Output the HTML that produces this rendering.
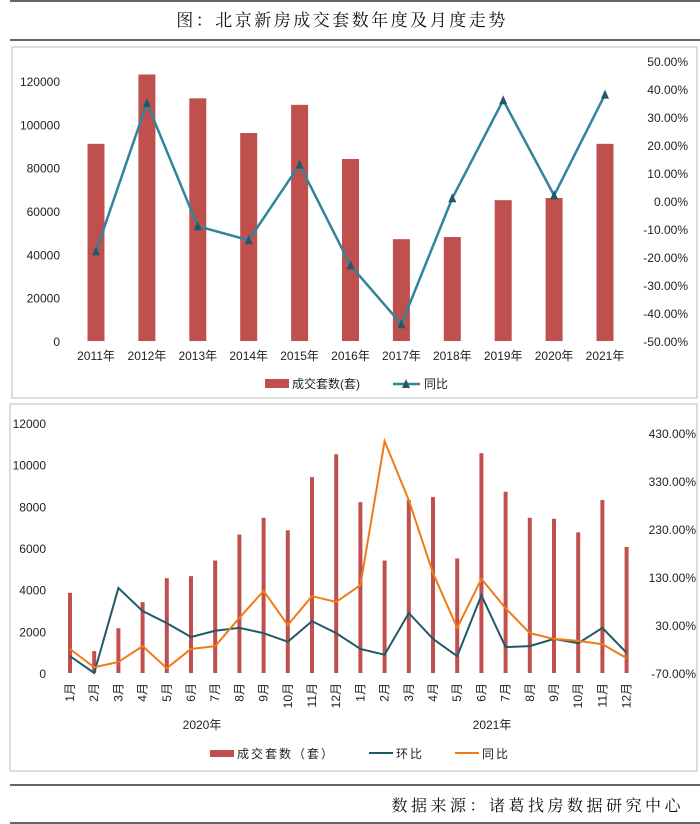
<!DOCTYPE html>
<html><head><meta charset="utf-8">
<style>
body{margin:0;background:#fff;width:700px;height:824px;overflow:hidden;font-family:"Liberation Sans","Noto Sans CJK SC",sans-serif;}
svg{display:block}
</style></head>
<body>
<svg id="s" width="700" height="824" xmlns="http://www.w3.org/2000/svg" font-family="Liberation Sans, Noto Sans CJK SC, sans-serif">
<line x1="10" y1="1" x2="700" y2="1" stroke="#333" stroke-width="1.5"/>
<text x="342" y="26" text-anchor="middle" font-size="17" font-family="Noto Serif CJK SC, serif" fill="#111" letter-spacing="2.5">图：北京新房成交套数年度及月度走势</text>
<line x1="10" y1="40" x2="700" y2="40" stroke="#333" stroke-width="1.5"/>
<rect x="12" y="47" width="685" height="351" fill="#fff" stroke="#bbb"/>
<rect x="10" y="404" width="687" height="367" fill="#fff" stroke="#bbb"/>
<g id="top"></g><g id="bot"></g>
<line x1="10" y1="785" x2="700" y2="785" stroke="#333" stroke-width="1.5"/>
<text x="684" y="811" text-anchor="end" font-size="16" font-family="Noto Serif CJK SC, serif" fill="#111" letter-spacing="3.5">数据来源：诸葛找房数据研究中心</text>
<line x1="10" y1="823" x2="700" y2="823" stroke="#333" stroke-width="1.5"/>
</svg>
<script>
const yearCats=["2011年","2012年","2013年","2014年","2015年","2016年","2017年","2018年","2019年","2020年","2021年"];
const yearVolumes=[91000,123000,112000,96000,109000,84000,47000,48000,65000,66000,91000];
const yearYoY=[-18,35,-9,-14,13,-23,-44,1,36,2,38];
const yearLeftTicks=[0,20000,40000,60000,80000,100000,120000];
const yearRightTicks=[-50,-40,-30,-20,-10,0,10,20,30,40,50];

const monthCats=["1月","2月","3月","4月","5月","6月","7月","8月","9月","10月","11月","12月","1月","2月","3月","4月","5月","6月","7月","8月","9月","10月","11月","12月"];
const monthVolumes=[3850,1050,2150,3400,4550,4650,5400,6650,7450,6850,9400,10500,8200,5400,8300,8450,5500,10550,8700,7450,7400,6750,8300,6050];
const monthMoM=[-35,-70,107,59,34,5,18,24,13,-5,38,13,-20,-32,55,1,-35,92,-16,-14,1,-8,24,-28];
const monthYoY=[-20,-58,-47,-14,-60,-20,-14,45,101,30,90,78,113,413,290,138,24,126,65,13,1,-3,-10,-39];
const monthLeftTicks=[0,2000,4000,6000,8000,10000,12000];
const monthRightTicks=[-70,30,130,230,330,430];

const NS="http://www.w3.org/2000/svg";
function mk(p,tag,a,txt){const e=document.createElementNS(NS,tag);for(const k in a)e.setAttribute(k,a[k]);if(txt!==undefined)e.textContent=txt;p.appendChild(e);return e;}

// top chart
const T=document.getElementById('top');
const ty=v=>341-v/120000*260;
const tr=v=>201-v/100*280;
const tx=i=>96+i*50.9;
yearLeftTicks.forEach(v=>{const t=mk(T,'text',{x:60,y:ty(v)+5,'text-anchor':'end','font-size':12,fill:'#222'},v);

});
yearRightTicks.forEach(v=>{const t=mk(T,'text',{x:688,y:tr(v)+5,'text-anchor':'end','font-size':12,fill:'#222'},v.toFixed(2)+'%');

});
yearVolumes.forEach((v,i)=>{const r=mk(T,'rect',{x:tx(i)-8.5,y:ty(v),width:17,height:341-ty(v),fill:'#c0504d'});

});
yearCats.forEach((c,i)=>{const t=mk(T,'text',{x:tx(i),y:360,'text-anchor':'middle','font-size':12,fill:'#222'},c);

});
const tl=mk(T,'polyline',{points:yearYoY.map((v,i)=>tx(i)+','+tr(v)).join(' '),fill:'none',stroke:'#31849b','stroke-width':2.5});


yearYoY.forEach((v,i)=>{const x=tx(i),y=tr(v);const m=mk(T,'polygon',{points:`${x-4},${y+4} ${x+4},${y+4} ${x},${y-5}`,fill:'#215968'});

});
let g=mk(T,'g',{});
mk(g,'rect',{x:265,y:379,width:24,height:9,fill:'#c0504d'});
mk(g,'text',{x:292,y:388,'font-size':12,fill:'#222'},'成交套数(套)');
g=mk(T,'g',{});
mk(g,'line',{x1:393,y1:384,x2:420,y2:384,stroke:'#31849b','stroke-width':2.5});
mk(g,'polygon',{points:'402,388 410,388 406,379',fill:'#215968'});
mk(g,'text',{x:424,y:388,'font-size':12,fill:'#222'},'同比');

// bottom chart
const B=document.getElementById('bot');
const by=v=>673-v/12000*250;
const br=v=>673-(v+70)/100*48;
const bx=i=>70+i*24.2;
monthLeftTicks.forEach(v=>{const t=mk(B,'text',{x:46,y:by(v)+5,'text-anchor':'end','font-size':12,fill:'#222'},v);

});
monthRightTicks.forEach(v=>{const t=mk(B,'text',{x:696,y:br(v)+5,'text-anchor':'end','font-size':12,fill:'#222'},v.toFixed(2)+'%');

});
monthVolumes.forEach((v,i)=>{const r=mk(B,'rect',{x:bx(i)-2,y:by(v),width:4,height:673-by(v),fill:'#c0504d'});

});
monthCats.forEach((c,i)=>{const t=mk(B,'text',{x:0,y:0,'font-size':12,fill:'#222',transform:`translate(${bx(i)+4},${683}) rotate(-90)`,'text-anchor':'end'},c);

});
[["2020年",202],["2021年",492]].forEach(([c,x])=>{const t=mk(B,'text',{x:x,y:729,'text-anchor':'middle','font-size':12,fill:'#222'},c);

});
const ml=mk(B,'polyline',{points:monthMoM.map((v,i)=>bx(i)+','+br(v)).join(' '),fill:'none',stroke:'#215968','stroke-width':2});


const yl=mk(B,'polyline',{points:monthYoY.map((v,i)=>bx(i)+','+br(v)).join(' '),fill:'none',stroke:'#f07b14','stroke-width':2});


g=mk(B,'g',{});
mk(g,'rect',{x:210,y:750,width:24,height:7,fill:'#c0504d'});
mk(g,'text',{x:237,y:758,'font-size':12,fill:'#222','letter-spacing':2},'成交套数（套）');
g=mk(B,'g',{});
mk(g,'line',{x1:369,y1:753,x2:393,y2:753,stroke:'#215968','stroke-width':2});
mk(g,'text',{x:396,y:758,'font-size':12,fill:'#222','letter-spacing':2},'环比');
g=mk(B,'g',{});
mk(g,'line',{x1:455,y1:753,x2:479,y2:753,stroke:'#f07b14','stroke-width':2});
mk(g,'text',{x:482,y:758,'font-size':12,fill:'#222','letter-spacing':2},'同比');
</script>
</body></html>
